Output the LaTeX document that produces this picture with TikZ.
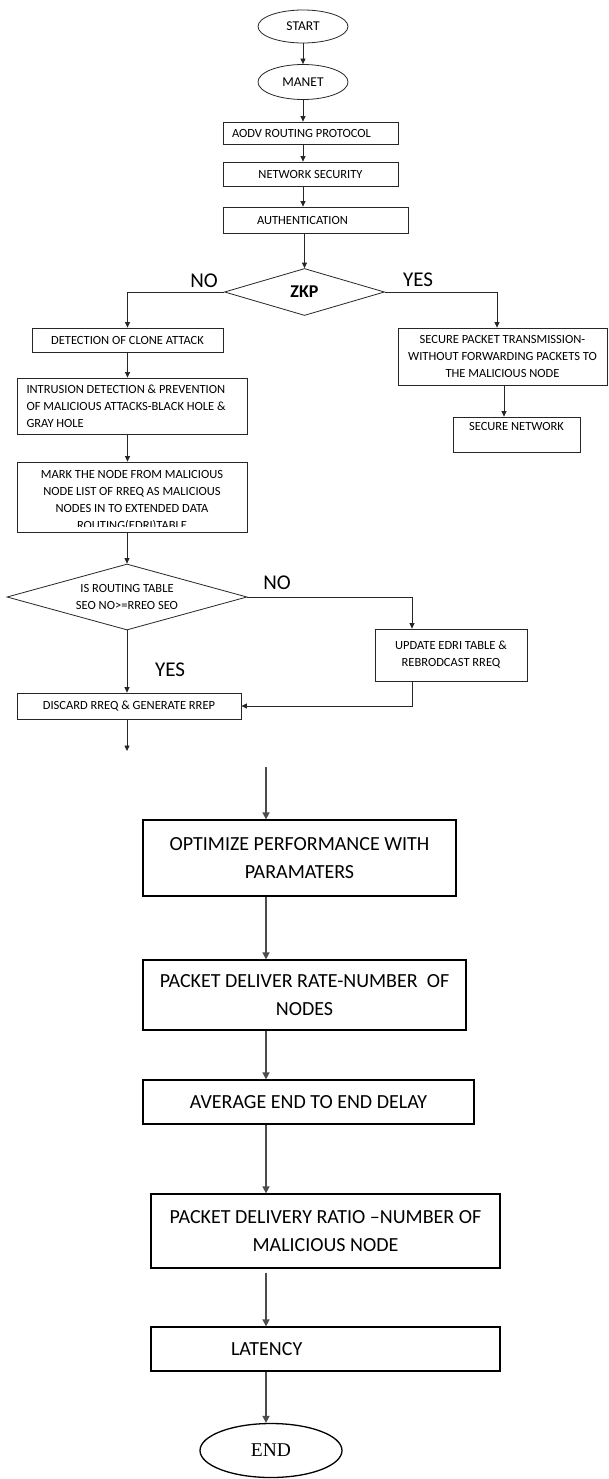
\documentclass[tikz,border=0pt]{standalone}
\usepackage{fontspec}
\setmainfont{Carlito}
\newfontfamily\endfont{Liberation Serif}
\usetikzlibrary{shapes.geometric,arrows.meta,calc}
\begin{document}
\begin{tikzpicture}[x=1pt,y=-1pt,
  sm/.style={font=\fontsize{12.5}{17}\selectfont},
  lg/.style={font=\fontsize{20}{28}\selectfont},
  tbox/.style={draw=black!85, line width=0.8pt, rectangle, inner sep=0pt, align=center, sm},
  bbox/.style={draw=black, line width=1.3pt, rectangle, inner sep=0pt, align=center, lg},
  term/.style={draw=black!85, line width=0.8pt, ellipse, inner sep=0pt, font=\fontsize{13.5}{16}\selectfont},
  tline/.style={draw=black!85, line width=0.8pt},
  tarr/.style={tline, -{Triangle[length=5.5pt,width=5pt]}},
  barr/.style={draw=black!70, line width=1.6pt, -{Triangle[length=7pt,width=7pt]}},
  lbl/.style={font=\fontsize{21}{24}\selectfont, inner sep=0pt},
]
\useasboundingbox[fill=white] (0,0) rectangle (609,1479);

% top section
\node[term, minimum width=90, minimum height=33] (start) at (303,26.5) {START};
\node[term, minimum width=90, minimum height=35] (manet) at (303,82) {MANET};
\node[tbox, text width=157, align=flush left, inner xsep=9, minimum height=22] (aodv) at (310.5,133) {AODV ROUTING PROTOCOL};
\node[tbox, minimum width=175, minimum height=24] (netsec) at (310.5,174) {NETWORK SECURITY};
\node[tbox, text width=117, align=flush left, inner xsep=34, minimum height=26] (auth) at (315.5,220) {AUTHENTICATION};
\node[draw=black!85, line width=0.8pt, diamond, inner sep=0pt, minimum width=160, minimum height=47,
      font=\bfseries\fontsize{18}{20}\selectfont] (zkp) at (304.5,292) {ZKP};
\node[lbl] (no1) at (204,281) {NO};
\node[lbl] (yes1) at (418,280) {YES};

% left branch
\node[tbox, minimum width=191, minimum height=24] (det) at (127.5,340) {DETECTION OF CLONE ATTACK};
\node[tbox, text width=211, align=flush left, inner xsep=9.5, minimum height=56] (intr) at (132,406)
  {INTRUSION DETECTION \& PREVENTION\\OF MALICIOUS ATTACKS-BLACK HOLE \&\\GRAY HOLE};
\node[tbox, minimum width=230, minimum height=70] (mark) at (132,497) {};
\begin{scope}
  \clip (17,462) rectangle (247,526);
  \node[sm, align=center, anchor=north, inner sep=0pt] (marktxt) at (132,470.5)
    {MARK THE NODE FROM MALICIOUS\\NODE LIST OF RREQ AS MALICIOUS\\NODES IN TO EXTENDED DATA\\ROUTING(EDRI)TABLE};
\end{scope}
\node[draw=black!85, line width=0.8pt, diamond, aspect=3.64, inner sep=0pt, minimum width=240, minimum height=66,
      sm, align=center] (route) at (127,597) {IS ROUTING TABLE\\SEO NO>=RREO SEO};
\node[lbl] (no2) at (277,583) {NO};
\node[lbl] (yes2) at (170,670) {YES};
\node[tbox, minimum width=152, minimum height=52] (upd) at (451,655) {UPDATE EDRI TABLE \&\\REBRODCAST RREQ};
\node[tbox, minimum width=224, minimum height=26] (disc) at (129,706) {DISCARD RREQ \& GENERATE RREP};
\coordinate (dend) at (127,751);

% right branch
\node[tbox, minimum width=209, minimum height=57] (secp) at (502.5,356.5)
  {SECURE PACKET TRANSMISSION-\\WITHOUT FORWARDING PACKETS TO\\THE MALICIOUS NODE};
\node[tbox, minimum width=127, minimum height=35] (secn) at (516.5,434.5) {SECURE NETWORK\\\mbox{}};

% lower section
\coordinate (lstart) at (266,767);
\node[bbox, minimum width=313, minimum height=76] (opt) at (299.5,858) {OPTIMIZE PERFORMANCE WITH\\PARAMATERS};
\node[bbox, minimum width=323, minimum height=70] (pdr) at (304.5,995) {PACKET DELIVER RATE-NUMBER\ \ OF\\NODES};
\node[bbox, minimum width=331, minimum height=44] (avg) at (308.5,1102) {AVERAGE END TO END DELAY};
\node[bbox, minimum width=349, minimum height=74] (pdratio) at (325.5,1231) {PACKET DELIVERY RATIO –NUMBER OF\\MALICIOUS NODE};
\node[bbox, text width=189, align=flush left, inner xsep=80, minimum height=44] (lat) at (325.5,1349) {LATENCY};
\node[draw=black, line width=1.3pt, ellipse, inner sep=0pt, minimum width=142, minimum height=54,
      font=\endfont\fontsize{19.5}{22}\selectfont] (endn) at (271,1450.5) {END};

% connectors, top
\draw[tarr] (start) -- (manet);
\draw[tarr] (manet.south) -- (manet.south |- aodv.north);
\draw[tarr] (manet.south |- aodv.south) -- (manet.south |- netsec.north);
\draw[tarr] (manet.south |- netsec.south) -- (manet.south |- auth.north);
\draw[tarr] (zkp.north |- auth.south) -- (zkp.north);
\draw[tarr] (zkp.west) -| (det.north);
\draw[tarr] (zkp.east) -| ([xshift=-5.5pt]secp.north);
\draw[tarr] ([xshift=1.5pt]secp.south) -- ([xshift=1.5pt]secp.south |- secn.north);
\draw[tarr] (det.south) -- (det.south |- intr.north);
\draw[tarr] (det.south |- intr.south) -- (det.south |- mark.north);
\draw[tarr] (route.north |- mark.south) -- (route.north);
\draw[tarr] (route.east) -| ([xshift=-39pt]upd.north);
\draw[tarr] (route.south) -- (route.south |- disc.north);
\draw[tarr] ([xshift=-39pt]upd.south) |- (disc.east);
\draw[tarr] (dend |- disc.south) -- (dend);

% connectors, lower
\draw[barr] (lstart) -- (lstart |- opt.north);
\draw[barr] (lstart |- opt.south) -- (lstart |- pdr.north);
\draw[barr] (lstart |- pdr.south) -- (lstart |- avg.north);
\draw[barr] (lstart |- avg.south) -- (lstart |- pdratio.north);
\draw[barr] ([yshift=-4pt]lstart |- pdratio.south) -- (lstart |- lat.north);
\draw[barr] (lstart |- lat.south) -- (lstart |- endn.north);
\end{tikzpicture}
\end{document}
